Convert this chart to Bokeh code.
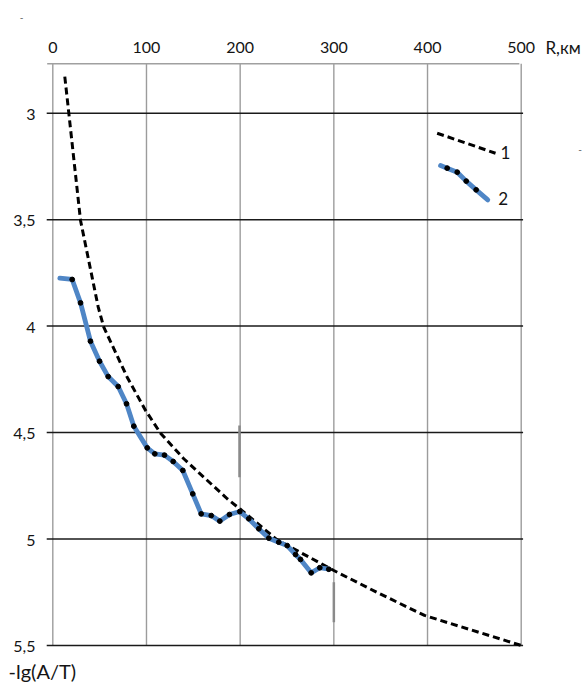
from bokeh.plotting import figure
from bokeh.models import Range1d
from bokeh.core.properties import value
from bokeh.embed import file_html
from bokeh.resources import INLINE

# ---- data ----
x_ticks = [0, 100, 200, 300, 400, 500]
x_tick_labels = ["0", "100", "200", "300", "400", "500"]
y_ticks = [3, 3.5, 4, 4.5, 5, 5.5]
y_tick_labels = ["3", "3,5", "4", "4,5", "5", "5,5"]
x_title = "R,км"
y_title = "-lg(A/T)"

# curve 1 (dashed)
r1 = [12.8, 17.1, 29.6, 48.5, 54.4, 79.4, 99.0, 115.0, 139.8, 186.2, 199.6,
      239.5, 300.0, 348.0, 396.8, 500.0]
v1 = [2.828, 3.0, 3.504, 3.911, 4.005, 4.240, 4.396, 4.503, 4.623, 4.811, 4.858,
      5.004, 5.148, 5.255, 5.359, 5.5]

# curve 2 (observed)
r2 = [7.5, 20.7, 29.6, 40.2, 49.9, 59.1, 69.8, 78.7, 86.5, 100.8, 108.9, 119.2,
      128.5, 138.8, 149.4, 158.4, 169.1, 178.3, 188.6, 199.6, 209.2, 219.9,
      230.6, 241.2, 250.2, 259.1, 264.4, 275.8, 285.0, 294.6]
v2 = [3.775, 3.781, 3.891, 4.071, 4.165, 4.237, 4.284, 4.365, 4.470, 4.572,
      4.600, 4.606, 4.636, 4.678, 4.788, 4.882, 4.890, 4.916, 4.885, 4.871,
      4.905, 4.952, 4.996, 5.015, 5.031, 5.073, 5.096, 5.159, 5.135, 5.142]

# legend samples
leg1_r = [410.3, 472.6]
leg1_v = [3.094, 3.188]
leg2_r = [413.9, 421.0, 431.7, 441.3, 451.9, 464.3]
leg2_v = [3.246, 3.258, 3.277, 3.319, 3.360, 3.407]
legend_labels = ["1", "2"]

# scan marks on the grid
mark_r = [199.3, 300.0]
mark_v0 = [4.467, 5.203]
mark_v1 = [4.710, 5.391]

TXT = "#141414"
FONT = "Lato"

# the frame spans the whole canvas; every text is drawn in data space
p = figure(width=583, height=684,
           x_range=Range1d(-55.83, 566.5), y_range=Range1d(5.6834, 2.4706),
           output_backend="svg", toolbar_location=None,
           min_border=0, x_axis_type=None, y_axis_type=None)
p.outline_line_color = None
p.grid.visible = False
p.background_fill_color = "white"
p.border_fill_color = "white"

top_v = 2.768
bottom_v = y_ticks[-1]
# vertical grid
p.segment(x0=x_ticks, y0=[top_v] * len(x_ticks), x1=x_ticks, y1=[bottom_v] * len(x_ticks),
          line_color="#9c9c9c", line_width=1.4)
# top border (axis line)
p.segment(x0=[-6], y0=[top_v], x1=[498], y1=[top_v], line_color="#a0a0a0", line_width=1.5)
# horizontal grid
p.segment(x0=[-6.5] * len(y_ticks), y0=y_ticks, x1=[502] * len(y_ticks), y1=y_ticks,
          line_color="#1a1a1a", line_width=1.5)
# scan marks
p.segment(x0=mark_r, y0=mark_v0, x1=mark_r, y1=mark_v1, line_color="#8a8a8a", line_width=2.5)

# curve 1
p.line(r1, v1, line_color="black", line_width=3, line_dash="7 4")
# curve 2
p.line(r2, v2, line_color="#4f86c6", line_width=4.8, line_join="round", line_cap="round")
p.scatter(r2[1:], v2[1:], size=4.8, color="black")

# legend samples
p.line(leg1_r, leg1_v, line_color="black", line_width=3, line_dash="7 4")
p.line(leg2_r, leg2_v, line_color="#4f86c6", line_width=4.8, line_join="round", line_cap="round")
p.scatter(leg2_r[1:5], leg2_v[1:5], size=4.8, color="black")

# tick labels
p.text(x=x_ticks, y=[2.690] * len(x_ticks), text=x_tick_labels,
       text_font=value(FONT), text_font_size=value("16px"), text_color=TXT,
       text_align="center", text_baseline="alphabetic")
p.text(x=[-18.5] * len(y_ticks), y=[t + 0.006 for t in y_ticks], text=y_tick_labels,
       text_font=value(FONT), text_font_size=value("16px"), text_color=TXT,
       text_align="right", text_baseline="middle")

# legend numbers
p.text(x=[478.0, 475.4], y=[3.185, 3.402], text=legend_labels,
       text_font=value(FONT), text_font_size=value("17px"), text_color=TXT,
       text_align="left", text_baseline="middle")

# axis titles
p.text(x=[525.9], y=[2.690], text=[x_title],
       text_font=value(FONT), text_font_size=value("17px"), text_color=TXT,
       text_align="left", text_baseline="alphabetic")
p.text(x=[-47.3], y=[5.620], text=[y_title],
       text_font=value(FONT), text_font_size=value("20px"), text_color=TXT,
       text_align="left", text_baseline="middle")

# stray marks of the scan
p.text(x=[-33.4, 563.0], y=[2.550, 3.171], text=["-", "-"],
       text_font=value(FONT), text_font_size=value("10px"), text_color="#555555",
       text_align="center", text_baseline="middle")

open("out.html", "w").write(file_html(p, INLINE))
